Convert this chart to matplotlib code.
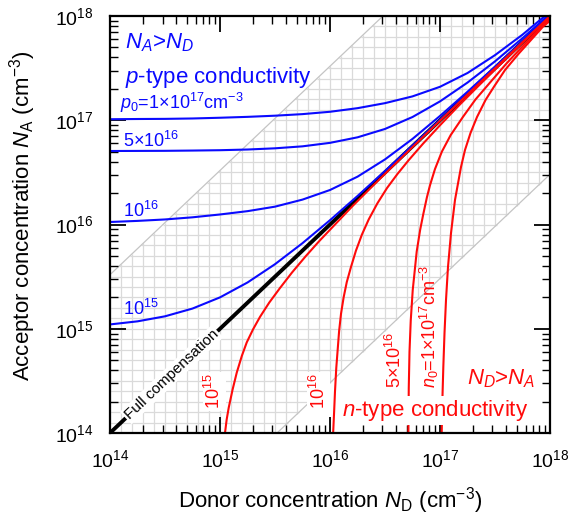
"""
Compensation map for a doped semiconductor: lines of constant free-carrier
concentration in the (donor, acceptor) plane, with the full-compensation
diagonal separating p-type from n-type material.

Writes ``out.png``.
"""

import matplotlib

matplotlib.use("Agg")
import matplotlib.pyplot as plt  # noqa: E402
from matplotlib.ticker import NullFormatter  # noqa: E402

plt.rcParams["font.family"] = ["Liberation Sans", "DejaVu Sans"]
plt.rcParams["mathtext.fontset"] = "custom"
plt.rcParams["mathtext.rm"] = "Liberation Sans"
plt.rcParams["mathtext.it"] = "Liberation Sans:italic"
plt.rcParams["mathtext.bf"] = "Liberation Sans:bold"

BLUE = "#0a0aff"
RED = "#ff0a0a"
GRID = "#dadada"
EDGE = "#c4c4c4"

# p-type: constant hole concentration p0 (N_D, N_A pairs, cm^-3)
ND_P = [1e14, 1.78e14, 3.16e14, 5.62e14, 1e15, 1.78e15, 3.16e15, 5.62e15, 1e16,
        1.78e16, 3.16e16, 5.62e16, 1e17, 1.78e17, 3.16e17, 5.62e17, 1e18]
NA_P17 = [1.023e17, 1.028e17, 1.031e17, 1.04e17, 1.057e17, 1.078e17, 1.106e17,
          1.145e17, 1.206e17, 1.306e17, 1.459e17, 1.694e17, 2.094e17, 2.84e17,
          4.21e17, 6.62e17, 1.1e18]
NA_P5E16 = [5.07e16, 5.08e16, 5.09e16, 5.12e16, 5.16e16, 5.24e16, 5.38e16, 5.62e16,
            6.07e16, 6.86e16, 8.25e16, 1.074e17, 1.517e17, 2.3e17, 3.67e17, 6.12e17,
            1.05e18]
NA_P16 = [1.057e16, 1.083e16, 1.118e16, 1.172e16, 1.248e16, 1.343e16, 1.483e16,
          1.733e16, 2.143e16, 2.877e16, 4.21e16, 6.62e16, 1.1e17, 1.878e17, 3.26e17,
          5.72e17, 1.01e18]
NA_P15 = [1.1e15, 1.178e15, 1.316e15, 1.562e15, 2e15, 2.78e15, 4.16e15, 6.62e15,
          1.1e16, 1.878e16, 3.26e16, 5.72e16, 1.01e17, 1.79e17, 3.17e17, 5.63e17,
          1.001e18]

# n-type: constant electron concentration n0
ND_N15 = [1.09e15, 1.11e15, 1.15e15, 1.2e15, 1.3e15, 1.42e15, 1.58e15, 1.75e15, 2e15,
          2.31e15, 2.8e15, 3.5e15, 4.5e15, 6e15, 8e15, 1.1e16, 1.6e16, 2.5e16, 4e16,
          7e16, 1.2e17, 2.5e17, 5e17, 1e18]
NA_N15 = [8e13, 1e14, 1.35e14, 1.75e14, 2.6e14, 3.8e14, 5.5e14, 7.4e14, 9.9e14,
          1.3e15, 1.78e15, 2.45e15, 3.45e15, 4.95e15, 6.95e15, 9.9e15, 1.5e16, 2.4e16,
          3.9e16, 6.9e16, 1.19e17, 2.49e17, 4.99e17, 9.99e17]

ND_N16 = [1.064e16, 1.068e16, 1.09e16, 1.11e16, 1.14e16, 1.17e16, 1.21e16, 1.26e16,
          1.33e16, 1.42e16, 1.55e16, 1.72e16, 1.95e16, 2.25e16, 2.7e16, 3.3e16, 4.1e16,
          5.2e16, 7e16, 1e17, 1.5e17, 2.3e17, 3.5e17, 5.5e17, 1e18]
NA_N16 = [7e13, 1e14, 1.6e14, 2.5e14, 4.2e14, 6e14, 9.5e14, 1.4e15, 2e15, 2.8e15,
          3.9e15, 5.6e15, 8e15, 1.12e16, 1.6e16, 2.24e16, 3.05e16, 4.15e16, 5.95e16,
          8.95e16, 1.4e17, 2.2e17, 3.4e17, 5.4e17, 9.9e17]

ND_N5E16 = [5.13e16, 5.16e16, 5.2e16, 5.28e16, 5.42e16, 5.65e16, 6.14e16, 6.6e16,
            7.05e16, 7.6e16, 8.11e16, 9e16, 1.04e17, 1.25e17, 1.62e17, 2.1e17, 2.85e17,
            4e17, 5.34e17, 7e17, 1e18]
NA_N5E16 = [6e13, 1e14, 2.7e14, 6e14, 1.2e15, 2.35e15, 5.5e15, 8.9e15, 1.26e16,
            1.82e16, 2.38e16, 3.4e16, 5e16, 7.2e16, 1.08e17, 1.58e17, 2.3e17, 3.48e17,
            4.82e17, 6.48e17, 9.48e17]

ND_N17 = [1.034e17, 1.036e17, 1.051e17, 1.072e17, 1.099e17, 1.134e17, 1.182e17,
          1.259e17, 1.369e17, 1.552e17, 1.688e17, 1.894e17, 2.17e17, 2.593e17,
          3.097e17, 3.899e17, 5.228e17, 6.72e17, 8.64e17, 1e18]
NA_N17 = [6e13, 1e14, 2.07e14, 4.3e14, 9.1e14, 1.89e15, 3.91e15, 8.28e15, 1.72e16,
          3.56e16, 5.19e16, 7.55e16, 1.074e17, 1.563e17, 2.1e17, 3.03e17, 4.39e17,
          5.89e17, 7.91e17, 9e17]

# full compensation N_A = N_D
ND_COMP = [1e14, 1e18]
NA_COMP = [1e14, 1e18]

# the gridded band spans N_D/BAND .. N_D*BAND, ruled every tenth of a decade
BAND = 33.0
GRID_PER_DECADE = 10
LO, HI = 1e14, 1e18
LOG_LO, LOG_HI = 14, 18


def draw_band(ax):
    n = (LOG_HI - LOG_LO) * GRID_PER_DECADE
    for k in range(n + 1):
        v = 10.0 ** (LOG_LO + k / GRID_PER_DECADE)
        a, b = max(LO, v / BAND), min(HI, v * BAND)
        ax.vlines(v, a, b, colors=GRID, lw=0.9, zorder=0.5)
        ax.hlines(v, a, b, colors=GRID, lw=0.9, zorder=0.5)
    ax.plot([LO, HI / BAND], [LO * BAND, HI], color=EDGE, lw=0.9, zorder=0.6)
    ax.plot([LO * BAND, HI], [LO, HI / BAND], color=EDGE, lw=0.9, zorder=0.6)


def main():
    fig = plt.figure(figsize=(5.68, 5.18), dpi=100)
    ax = fig.add_axes([0.1937, 0.1641, 0.7746, 0.8050])
    ax.set_xscale("log")
    ax.set_yscale("log")

    draw_band(ax)
    ax.plot(ND_COMP, NA_COMP, color="black", lw=2.8, zorder=1.5)

    for na in (NA_P17, NA_P5E16, NA_P16, NA_P15):
        ax.plot(ND_P, na, color=BLUE, lw=1.5, zorder=2)
    for nd, na in [(ND_N15, NA_N15), (ND_N16, NA_N16), (ND_N5E16, NA_N5E16),
                   (ND_N17, NA_N17)]:
        ax.plot(nd, na, color=RED, lw=1.5, zorder=2)

    ax.set_xlim(LO, HI)
    ax.set_ylim(LO, HI)

    # p-type annotations
    t = ax.transAxes
    ax.text(0.034, 0.923, r"$N_A$>$N_D$", transform=t, color=BLUE, fontsize=16,
            va="baseline")
    ax.text(0.034, 0.840, r"$p$-type conductivity", transform=t, color=BLUE,
            fontsize=16, va="baseline")
    ax.text(0.023, 0.777, r"$p_0$=1×10$^{17}$cm$^{-3}$", transform=t, color=BLUE,
            fontsize=13, va="baseline")
    ax.text(0.030, 0.687, "5×10$^{16}$", transform=t, color=BLUE, fontsize=13,
            va="baseline")
    ax.text(0.029, 0.519, "10$^{16}$", transform=t, color=BLUE, fontsize=13,
            va="baseline")
    ax.text(0.029, 0.283, "10$^{15}$", transform=t, color=BLUE, fontsize=13,
            va="baseline")

    # n-type annotations (rotated, reading upwards)
    white = dict(facecolor="white", edgecolor="none", boxstyle="square,pad=0.08")
    for x, label in [(0.2597, "10$^{15}$"), (0.4966, "10$^{16}$")]:
        ax.text(x, 0.057, label, transform=t, color=RED, fontsize=13, rotation=90,
                ha="right", va="bottom", bbox=white)
    ax.text(0.6697, 0.107, "5×10$^{16}$", transform=t, color=RED, fontsize=13,
            rotation=90, ha="right", va="bottom")
    ax.text(0.753, 0.107, r"$n_0$=1×10$^{17}$cm$^{-3}$", transform=t, color=RED,
            fontsize=13, rotation=90, ha="right", va="bottom")
    ax.text(0.968, 0.117, r"$N_D$>$N_A$", transform=t, color=RED, fontsize=16,
            ha="right", va="baseline")
    ax.text(0.528, 0.041, r"$n$-type conductivity", transform=t, color=RED,
            fontsize=16, va="baseline",
            bbox=dict(facecolor="white", edgecolor="none", boxstyle="square,pad=0.1"))

    ax.text(3.63e14, 3.63e14, "Full compensation", fontsize=11, rotation=43.5,
            rotation_mode="anchor", ha="center", va="center", zorder=4,
            bbox=dict(facecolor="white", edgecolor="none", boxstyle="square,pad=0.1"))

    ax.set_xlabel(r"Donor concentration $N_{\mathrm{D}}$ (cm$^{-3}$)", fontsize=16)
    ax.set_ylabel(r"Acceptor concentration $N_{\mathrm{A}}$ (cm$^{-3}$)", fontsize=16)
    ax.xaxis.set_label_coords(0.5, -0.125)
    ax.yaxis.set_label_coords(-0.164, 0.52)

    ax.tick_params(which="both", direction="in", top=True, right=True)
    ax.tick_params(which="major", length=11.5, width=1.3, pad=12, labelsize=14)
    ax.tick_params(which="minor", length=6, width=1.0)
    ax.xaxis.set_minor_formatter(NullFormatter())
    ax.yaxis.set_minor_formatter(NullFormatter())
    for sp in ax.spines.values():
        sp.set_linewidth(1.6)

    fig.savefig("out.png", dpi=100)


if __name__ == "__main__":
    main()
